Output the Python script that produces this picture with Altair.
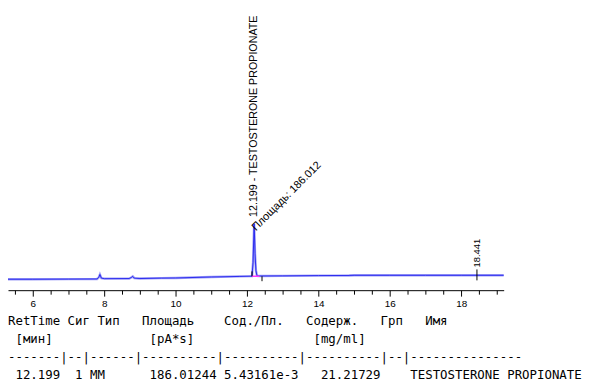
import altair as alt
import pandas as pd

# ---- chromatogram signal (retention time [min], signal [pA]) ----
sig_time = [5.305, 6.0, 7.0, 7.80, 7.85, 7.88, 7.92, 8.0, 8.70, 8.77, 8.80, 8.84, 9.0, 9.6,
            10.0, 11.0, 11.8, 12.14, 12.17, 12.20, 12.225, 12.25, 12.28, 12.35, 13.0, 14.0,
            14.86, 15.0, 16.0, 17.0, 18.0, 18.441, 19.19]
sig_val = [3.9, 3.9, 3.95, 4.0, 4.6, 5.6, 4.3, 4.1, 4.15, 4.6, 4.9, 4.3, 4.15, 4.3,
           4.35, 4.7, 4.9, 5.0, 10.0, 23.7, 13.0, 7.0, 5.1, 5.05, 5.1, 5.2,
           5.25, 5.3, 5.3, 5.3, 5.3, 5.3, 5.3]

# integration baseline under the peak
base_time = [12.14, 12.35]
base_val = [4.95, 5.0]

# peak start / end / marker ticks
marker_time = [12.14, 12.42, 18.441]
marker_lo = [4.95, 3.2, 3.5]
marker_hi = [6.7, 4.95, 7.4]

# table values
ret_time = "12.199"
signal_no = "1"
peak_type = "MM"
area = "186.01244"
amt_area = "5.43161e-3"
amount = "21.21729"
compound = "TESTOSTERONE PROPIONATE"
area_short = "186.012"
second_peak = "18.441"

header1 = "RetTime Сиг Тип   Площадь    Сод./Пл.   Содерж.   Грп   Имя"
header2 = " [мин]" + " " * 13 + "[pA*s]" + " " * 16 + "[mg/ml]"
dashes = "-------|--|------|----------|----------|----------|--|---------------"
row = (" " + ret_time + "  " + signal_no + " " + peak_type + " " * 6 + area + " "
       + amt_area + "   " + amount + "    " + compound)
# keep every space (no collapsing / trimming) in the monospaced report lines
table_lines = ["\u200b" + s.replace(" ", "\u00a0") for s in [header1, header2, dashes, row]]

tick_values = [5.5, 6, 6.5, 7, 7.5, 8, 8.5, 9, 9.5, 10, 10.5, 11, 11.5, 12, 12.5, 13,
               13.5, 14, 14.5, 15, 15.5, 16, 16.5, 17, 17.5, 18, 18.5, 19]

sig_df = pd.DataFrame({"t": sig_time, "v": sig_val})
base_df = pd.DataFrame({"t": base_time, "v": base_val})
mark_df = pd.DataFrame({"t": marker_time, "lo": marker_lo, "hi": marker_hi})
peak_lbl = pd.DataFrame({"t": [12.199], "v": [26.1], "txt": [ret_time + " - " + compound]})
area_lbl = pd.DataFrame({"t": [12.25], "v": [21.0], "txt": ["Площадь: " + area_short]})
p2_lbl = pd.DataFrame({"t": [18.441], "v": [8.1], "txt": [second_peak]})
tab_df = pd.DataFrame({"line": [0, 1, 2, 3], "txt": table_lines})

xscale = alt.Scale(domain=[5.305, 19.19], nice=False, zero=False)
ydom = alt.Scale(domain=[0, 100], nice=False, zero=False)

xaxis = alt.Axis(
    values=tick_values,
    labelExpr="datum.value % 2 === 0 ? '' + datum.value : ''",
    tickSize={"condition": {"test": "datum.value % 2 === 0", "value": 6}, "value": 4},
    domainColor="black", tickColor="black", labelColor="black",
    labelFont="Liberation Sans", labelFontSize=10, labelPadding=2,
    grid=False, title=None, labelFlush=False, labelOverlap=False,
)

X = alt.X("t:Q", scale=xscale, axis=xaxis)
Y = alt.Y("v:Q", scale=ydom, axis=None)

line_light = alt.Chart(sig_df).mark_line(color="#a0a0f6", strokeWidth=2.4).encode(x=X, y=Y)
line_dark = alt.Chart(sig_df).mark_line(color="#2020ee", strokeWidth=0.9).encode(x=X, y=Y)
base_line = alt.Chart(base_df).mark_line(color="#ff3cff", strokeWidth=1.5).encode(x=X, y=Y)
markers = alt.Chart(mark_df).mark_rule(color="black", strokeWidth=1).encode(
    x=X, y=alt.Y("lo:Q", scale=ydom, axis=None), y2="hi:Q")

peak_text = alt.Chart(peak_lbl).mark_text(
    angle=270, align="left", baseline="middle", font="Liberation Sans",
    fontSize=10.8, color="black").encode(x=X, y=Y, text="txt:N")
area_text = alt.Chart(area_lbl).mark_text(
    angle=315, align="left", baseline="alphabetic", font="Liberation Sans",
    fontSize=11, color="black").encode(x=X, y=Y, text="txt:N")
p2_text = alt.Chart(p2_lbl).mark_text(
    angle=270, align="left", baseline="middle", font="Liberation Sans",
    fontSize=9.5, color="black").encode(x=X, y=Y, text="txt:N")

table = alt.Chart(tab_df).mark_text(
    align="left", baseline="alphabetic", font="DejaVu Sans Mono",
    fontSize=12.5, color="black").encode(
    x=alt.value(0),
    y=alt.Y("line:Q", axis=None, scale=alt.Scale(domain=[0, 3], range=[318, 373])),
    text="txt:N")

chart = alt.layer(
    line_light, line_dark, base_line, markers, peak_text, area_text, p2_text, table
).resolve_scale(y="independent").properties(
    width=500, height=283, background="white",
    padding={"left": -5, "top": 0, "right": 0, "bottom": 0},
).configure_view(stroke=None)

chart.save("out.html", embed_options={"renderer": "svg", "actions": False})
